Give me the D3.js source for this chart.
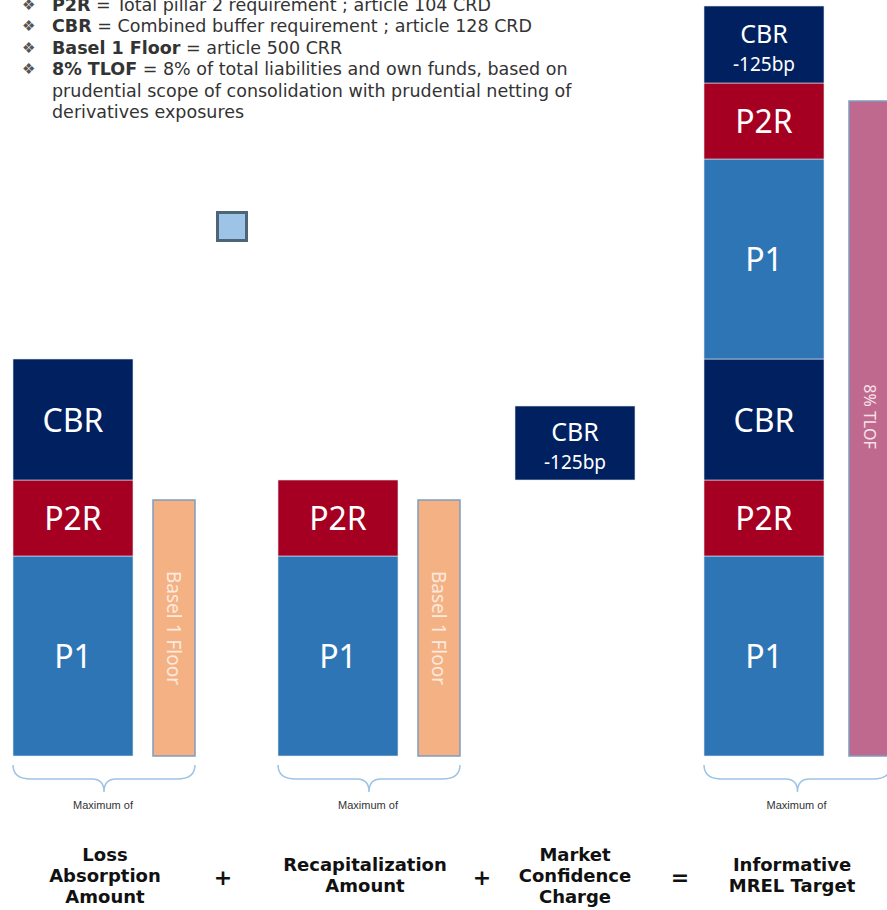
<!DOCTYPE html>
<html>
<head>
<meta charset="utf-8">
<script src="https://cdn.jsdelivr.net/npm/d3@7"></script>
<style>
  body { margin: 0; background: #fff; }
  svg { display: block; }
</style>
</head>
<body>
<div id="chart"></div>
<script>
// groups of the MREL equation
const groups = ["Loss Absorption Amount", "Recapitalization Amount", "Market Confidence Charge", "Informative MREL Target"];
const groupLines = [["Loss", "Absorption", "Amount"], ["Recapitalization", "Amount"], ["Market", "Confidence", "Charge"], ["Informative", "MREL Target"]];
const operators = ["+", "+", "="];

// stacked segments per group (bottom to top), in % of RWA (schematic)
const stackLabels = [
    ["P1", "P2R", "CBR"],
    ["P1", "P2R"],
    ["CBR|-125bp"],
    ["P1", "P2R", "CBR", "P1", "P2R", "CBR|-125bp"]
];
const stackValues = [
    [10, 3.8, 6.05],
    [10, 3.8],
    [3.7],
    [10, 3.8, 6.05, 10, 3.8, 3.85]
];
const stackOffsets = [0, 0, 13.8, 0];

// side bars ("maximum of")
const sideLabels = ["Basel 1 Floor", "Basel 1 Floor", null, "8% TLOF"];
const sideValues = [12.8, 12.8, 0, 32.75];

const legendItems = [
    ["P2R", " = Total pillar 2 requirement ; article 104 CRD"],
    ["CBR", " = Combined buffer requirement ; article 128 CRD"],
    ["Basel 1 Floor", " = article 500 CRR"],
    ["8% TLOF", " = 8% of total liabilities and own funds, based on"],
    [null, "prudential scope of consolidation with prudential netting of"],
    [null, "derivatives exposures"]
];

const colors = {
    "P1": "#2e75b6",
    "P2R": "#a50021",
    "CBR": "#002060",
    "CBR|-125bp": "#002060",
    "Basel 1 Floor": "#f4b183",
    "8% TLOF": "#c0698e"
};

const width = 887, height = 910;
const svg = d3.select("#chart").append("svg")
    .attr("width", width)
    .attr("height", height)
    .attr("viewBox", [0, 0, width, height]);

const baseY = 756;
const y = d3.scaleLinear().domain([0, 40]).range([baseY, baseY - 800]);
const x = d3.scaleOrdinal().domain(groups).range([13, 278, 515, 704]);
const barW = 120, sideGap = 20, sideW = 42;

// legend
const legend = svg.append("g").attr("font-family", "DejaVu Sans, Verdana, sans-serif")
    .attr("font-size", 17.5).attr("fill", "#333");
legendItems.forEach((d, i) => {
    const yy = 11 + i * 21.4;
    if (d[0]) {
        legend.append("text").attr("x", 22).attr("y", yy - 1)
            .attr("font-size", 15).attr("fill", "#555").text("\u2756");
    }
    const t = legend.append("text").attr("x", 52).attr("y", yy);
    if (d[0]) t.append("tspan").attr("font-weight", "bold").text(d[0]);
    t.append("tspan").text(d[1]);
});

// small stray square
svg.append("rect")
    .attr("x", 217.5).attr("y", 212.5).attr("width", 29).attr("height", 28)
    .attr("fill", "#9dc3e6").attr("stroke", "#4e6576").attr("stroke-width", 3);

// stacked bars
groups.forEach((g, gi) => {
    let acc = stackOffsets[gi];
    const gx = x(g);
    stackLabels[gi].forEach((lab, si) => {
        const v = stackValues[gi][si];
        const y0 = y(acc), y1 = y(acc + v);
        acc += v;
        svg.append("rect")
            .attr("x", gx).attr("y", y1)
            .attr("width", barW).attr("height", y0 - y1)
            .attr("fill", colors[lab])
            .attr("stroke", "#dfe6ee").attr("stroke-width", 0.6);
        const cy = (y0 + y1) / 2;
        const parts = lab.split("|");
        const txt = svg.append("text")
            .attr("x", gx + barW / 2)
            .attr("text-anchor", "middle")
            .attr("fill", "#fff")
            .attr("font-family", "Noto Sans, Open Sans, sans-serif");
        if (parts.length === 1) {
            txt.attr("y", cy + 12).attr("font-size", 32).text(parts[0]);
        } else {
            txt.attr("y", cy - 2).attr("font-size", 25).text(parts[0]);
            svg.append("text")
                .attr("x", gx + barW / 2).attr("y", cy + 26)
                .attr("text-anchor", "middle").attr("fill", "#fff")
                .attr("font-family", "Noto Sans, Open Sans, sans-serif")
                .attr("font-size", 19).text(parts[1]);
        }
    });

    // side bar
    if (sideLabels[gi]) {
        const sx = gx + barW + (gi === 3 ? 25 : sideGap);
        const top = y(sideValues[gi]);
        svg.append("rect")
            .attr("x", sx).attr("y", top)
            .attr("width", sideW).attr("height", baseY - top)
            .attr("fill", colors[sideLabels[gi]])
            .attr("stroke", "#7f9cc0").attr("stroke-width", 1.5);
        const cx = sx + sideW / 2;
        const cy = gi === 3 ? (top + baseY) / 2 - 12 : (top + baseY) / 2;
        svg.append("text")
            .attr("transform", `translate(${cx},${cy}) rotate(90)`)
            .attr("text-anchor", "middle").attr("dy", "0.35em")
            .attr("fill", gi === 3 ? "#f6e1ea" : "#fde9dc")
            .attr("font-family", "Noto Sans, Open Sans, sans-serif")
            .attr("font-size", gi === 3 ? 16 : 19).text(sideLabels[gi]);

        // brace under the "maximum of" pair
        const x0 = gx, x1 = sx + sideW, mid = (x0 + x1) / 2;
        const b0 = 765, b1 = 779, b2 = 792;
        svg.append("path")
            .attr("d", `M${x0},${b0} Q${x0},${b1} ${x0 + 18},${b1} L${mid - 12},${b1} Q${mid},${b1} ${mid},${b2}` +
                ` Q${mid},${b1} ${mid + 12},${b1} L${x1 - 18},${b1} Q${x1},${b1} ${x1},${b0}`)
            .attr("fill", "none").attr("stroke", "#9dc3e6").attr("stroke-width", 1.5);
        svg.append("text")
            .attr("x", mid - 1).attr("y", 809)
            .attr("text-anchor", "middle").attr("fill", "#333")
            .attr("font-family", "Liberation Sans, Arial, sans-serif")
            .attr("font-size", 11).text("Maximum of");
    }
});

// bottom labels
const labelX = [105, 365, 575, 792];
const opX = [223, 482, 680];
const bottom = svg.append("g")
    .attr("font-family", "DejaVu Sans, Verdana, sans-serif")
    .attr("font-weight", "bold").attr("font-size", 18)
    .attr("fill", "#111").attr("text-anchor", "middle");
groupLines.forEach((lines, i) => {
    const start = lines.length === 3 ? 861 : 871;
    lines.forEach((l, j) => {
        bottom.append("text").attr("x", labelX[i]).attr("y", start + j * 21).text(l);
    });
});
operators.forEach((o, i) => {
    bottom.append("text").attr("x", opX[i]).attr("y", 885)
        .attr("font-size", 22).text(o);
});
</script>
</body>
</html>
